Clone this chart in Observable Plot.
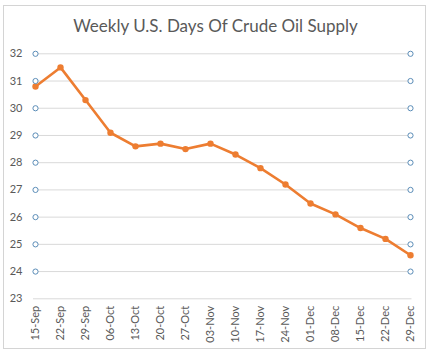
<!DOCTYPE html>
<html>
<head>
<meta charset="utf-8">
<script src="https://cdn.jsdelivr.net/npm/d3@7"></script>
<script src="https://cdn.jsdelivr.net/npm/@observablehq/plot@0.6"></script>
<style>
  html, body { margin: 0; padding: 0; background: #fff; }
  #wrap { position: relative; width: 431px; height: 353px; overflow: hidden; background: #fff; }
  #frame { position: absolute; left: 3px; top: 5px; width: 423px; height: 344px; border: 1px solid #d4d4d4; box-sizing: border-box; }
  #title { position: absolute; left: 0; top: 15px; width: 431px; text-align: center; font-family: Lato, "Open Sans", sans-serif; font-size: 17px; color: #595959; }
  #chart { position: absolute; left: 0; top: 40px; }
</style>
</head>
<body>
<div id="wrap">
  <div id="frame"></div>
  <div id="title">Weekly U.S. Days Of Crude Oil Supply</div>
  <div id="chart"></div>
</div>
<script>
const weeks = ["15-Sep","22-Sep","29-Sep","06-Oct","13-Oct","20-Oct","27-Oct","03-Nov","10-Nov","17-Nov","24-Nov","01-Dec","08-Dec","15-Dec","22-Dec","29-Dec"];
const daysSupply = [30.8,31.5,30.3,29.1,28.6,28.7,28.5,28.7,28.3,27.8,27.2,26.5,26.1,25.6,25.2,24.6];
const yTicks = [23,24,25,26,27,28,29,30,31,32];
const handleLevels = [24,25,26,27,28,29,30,31,32];

const data = weeks.map((w, i) => ({week: w, value: daysSupply[i]}));
const handles = [];
for (const v of handleLevels) {
  handles.push({week: weeks[0], value: v});
  handles.push({week: weeks[weeks.length - 1], value: v});
}

const chart = Plot.plot({
  width: 431,
  height: 313,
  marginLeft: 33,
  marginRight: 19.5,
  marginTop: 13.3,
  marginBottom: 54.7,
  style: {fontFamily: "Lato, 'Open Sans', sans-serif", fontSize: "11px", color: "#595959", background: "transparent"},
  x: {type: "point", domain: weeks, padding: 0},
  y: {domain: [23, 32]},
  marks: [
    Plot.ruleY(yTicks, {stroke: "#d9d9d9", strokeWidth: 1}),
    Plot.axisY(yTicks, {tickSize: 0, tickPadding: 11, label: null, fill: "#595959", fontSize: 11}),
    Plot.axisX(weeks, {tickSize: 0, tickPadding: 7, tickRotate: -90, label: null, fill: "#595959", fontSize: 11}),
    Plot.line(data, {x: "week", y: "value", stroke: "#ED7D31", strokeWidth: 2.6, strokeLinejoin: "round"}),
    Plot.dot(data, {x: "week", y: "value", r: 3.2, fill: "#ED7D31", stroke: "none"}),
    Plot.dot(handles, {x: "week", y: "value", r: 2.6, fill: "white", stroke: "#5b8db8", strokeWidth: 1})
  ]
});
document.getElementById("chart").appendChild(chart);
</script>
</body>
</html>
